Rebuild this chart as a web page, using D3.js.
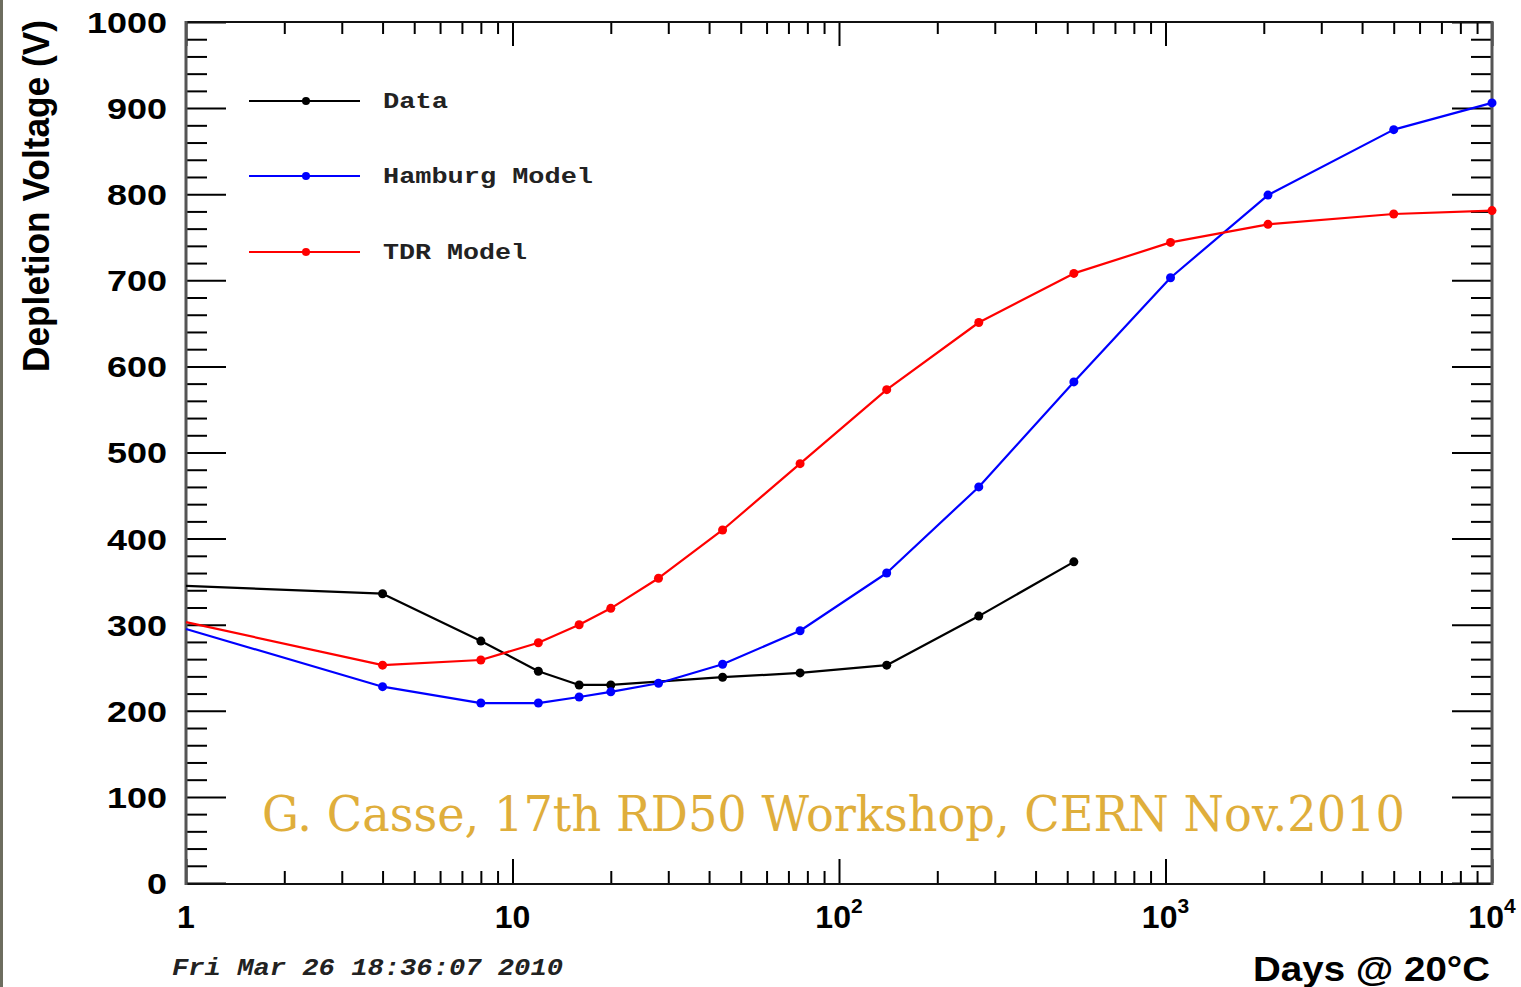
<!DOCTYPE html>
<html>
<head>
<meta charset="utf-8">
<script src="https://cdn.jsdelivr.net/npm/d3@7"></script>
<style>
  html, body { margin: 0; padding: 0; background: #fff; }
  svg { display: block; }
</style>
</head>
<body>
<svg id="chart" width="1521" height="987"></svg>
<script>
// ---- data ----
const modelDays = [1, 4, 8, 12, 16, 20, 28, 44, 76, 140, 268, 524, 1036, 2060, 5000, 10000];
const hamburgModel = [295, 228, 209, 209, 216, 222, 232, 254, 293, 360, 460, 582, 703, 799, 875, 906];
const tdrModel = [303, 253, 259, 279, 300, 319, 354, 410, 487, 573, 651, 708, 744, 765, 777, 781];
const dataDays = [1, 4, 8, 12, 16, 20, 44, 76, 140, 268, 524];
const dataValues = [345, 336, 281, 246, 230, 230, 239, 244, 253, 310, 373];

const xMajorTicks = [1, 10, 100, 1000, 10000];
const xTickExponents = [0, 1, 2, 3, 4];
const yMajorTicks = [0, 100, 200, 300, 400, 500, 600, 700, 800, 900, 1000];
const legendLabels = ["Data", "Hamburg Model", "TDR Model"];
const seriesColors = ["#000000", "#0000ff", "#ff0000"];

// ---- layout ----
const L = 186, R = 1492, T = 22, B = 883;
const svg = d3.select("#chart");

svg.append("rect").attr("x", 0).attr("y", 0).attr("width", 3).attr("height", 987).attr("fill", "#6d6d5f");

const x = d3.scaleLog().domain([1, 10000]).range([L, R]);
const y = d3.scaleLinear().domain([0, 1000]).range([B, T]);

const xMinor = [];
for (let d = 1; d < 10000; d *= 10) for (let k = 2; k <= 9; k++) xMinor.push(d * k);
const yMinor = [];
for (let v = 0; v < 1000; v += 20) if (v % 100 !== 0) yMinor.push(v);

function styleAxis(g) {
  g.select(".domain").remove();
  g.selectAll(".tick line").attr("stroke", "#000").attr("stroke-width", 2);
  g.selectAll(".tick text").remove();
}

// y ticks left (inward)
svg.append("g").attr("transform", `translate(${L},0)`)
  .call(d3.axisRight(y).tickValues(yMajorTicks).tickSize(40).tickFormat("")).call(styleAxis);
svg.append("g").attr("transform", `translate(${L},0)`)
  .call(d3.axisRight(y).tickValues(yMinor).tickSize(21).tickFormat("")).call(styleAxis);
// y ticks right (inward)
svg.append("g").attr("transform", `translate(${R},0)`)
  .call(d3.axisLeft(y).tickValues(yMajorTicks).tickSize(40).tickFormat("")).call(styleAxis);
svg.append("g").attr("transform", `translate(${R},0)`)
  .call(d3.axisLeft(y).tickValues(yMinor).tickSize(21).tickFormat("")).call(styleAxis);
// x ticks bottom (inward)
svg.append("g").attr("transform", `translate(0,${B})`)
  .call(d3.axisTop(x).tickValues(xMajorTicks).tickSize(24).tickFormat("")).call(styleAxis);
svg.append("g").attr("transform", `translate(0,${B})`)
  .call(d3.axisTop(x).tickValues(xMinor).tickSize(12).tickFormat("")).call(styleAxis);
// x ticks top (inward)
svg.append("g").attr("transform", `translate(0,${T})`)
  .call(d3.axisBottom(x).tickValues(xMajorTicks).tickSize(24).tickFormat("")).call(styleAxis);
svg.append("g").attr("transform", `translate(0,${T})`)
  .call(d3.axisBottom(x).tickValues(xMinor).tickSize(12).tickFormat("")).call(styleAxis);

// frame
svg.append("line").attr("x1", L).attr("x2", R).attr("y1", T).attr("y2", T).attr("stroke", "#111").attr("stroke-width", 2);
svg.append("line").attr("x1", L).attr("x2", R).attr("y1", B + 1).attr("y2", B + 1).attr("stroke", "#111").attr("stroke-width", 2);
svg.append("line").attr("x1", L).attr("x2", L).attr("y1", T - 1).attr("y2", B + 2).attr("stroke", "#555").attr("stroke-width", 3);
svg.append("line").attr("x1", R).attr("x2", R).attr("y1", T - 1).attr("y2", B + 2).attr("stroke", "#555").attr("stroke-width", 3);

// y labels
const yLab = svg.append("g").attr("transform", `translate(${L},0)`)
  .call(d3.axisLeft(y).tickValues(yMajorTicks).tickSize(0).tickPadding(19).tickFormat(d3.format("d")));
yLab.select(".domain").remove();
yLab.selectAll(".tick text")
  .attr("font-family", "Liberation Sans, Arial, sans-serif")
  .attr("font-weight", "bold").attr("font-size", 29).attr("fill", "#000")
  .attr("dy", "0.36em")
  .each(function () {
    const w = this.getComputedTextLength();
    d3.select(this).attr("textLength", w * 1.24).attr("lengthAdjust", "spacingAndGlyphs");
  });

// x labels
const xl = svg.append("g").attr("font-family", "Liberation Sans, Arial, sans-serif")
  .attr("font-weight", "bold").attr("fill", "#000");
xMajorTicks.forEach((v, i) => {
  const e = xTickExponents[i];
  const t = xl.append("text").attr("x", x(v)).attr("y", 928).attr("text-anchor", "middle").attr("font-size", 32);
  if (e === 0) t.text("1");
  else if (e === 1) t.text("10");
  else {
    t.append("tspan").text("10");
    t.append("tspan").attr("font-size", 21).attr("dy", -15).text(String(e));
  }
});

// axis titles
svg.append("text")
  .attr("transform", "translate(49,20) rotate(-90)")
  .attr("text-anchor", "end")
  .attr("font-family", "Liberation Sans, Arial, sans-serif").attr("font-weight", "bold")
  .attr("font-size", 36).attr("textLength", 352).attr("lengthAdjust", "spacingAndGlyphs")
  .text("Depletion Voltage (V)");

svg.append("text")
  .attr("x", 1253).attr("y", 981)
  .attr("font-family", "Liberation Sans, Arial, sans-serif").attr("font-weight", "bold")
  .attr("font-size", 35).attr("textLength", 237).attr("lengthAdjust", "spacingAndGlyphs")
  .text("Days @ 20°C");

svg.append("text")
  .attr("x", 172).attr("y", 975)
  .attr("font-family", "Liberation Mono, Courier New, monospace").attr("font-weight", "bold")
  .attr("font-style", "italic").attr("fill", "#222")
  .attr("font-size", 23).attr("textLength", 391).attr("lengthAdjust", "spacingAndGlyphs")
  .text("Fri Mar 26 18:36:07 2010");

// series
const series = [
  { days: dataDays, vals: dataValues, color: seriesColors[0] },
  { days: modelDays, vals: hamburgModel, color: seriesColors[1] },
  { days: modelDays, vals: tdrModel, color: seriesColors[2] }
];
const line = d3.line().x(d => x(d[0])).y(d => y(d[1]));
series.forEach(s => {
  const pts = s.days.map((d, i) => [d, s.vals[i]]);
  svg.append("path").datum(pts).attr("d", line)
    .attr("fill", "none").attr("stroke", s.color).attr("stroke-width", 2.2).attr("stroke-linejoin", "round");
  svg.append("g").selectAll("circle").data(pts.filter(p => p[0] > 1)).join("circle")
    .attr("cx", p => x(p[0])).attr("cy", p => y(p[1])).attr("r", 4.5).attr("fill", s.color);
});

// legend
const legY = [101, 176, 252];
const legTL = [65, 210, 144];
legendLabels.forEach((lab, i) => {
  svg.append("line").attr("x1", 249).attr("x2", 360).attr("y1", legY[i]).attr("y2", legY[i])
    .attr("stroke", seriesColors[i]).attr("stroke-width", 2);
  svg.append("circle").attr("cx", 306).attr("cy", legY[i]).attr("r", 4).attr("fill", seriesColors[i]);
  svg.append("text").attr("x", 383).attr("y", legY[i] + 7)
    .attr("font-family", "Liberation Mono, Courier New, monospace").attr("font-weight", "bold")
    .attr("font-size", 22).attr("fill", "#222")
    .attr("textLength", legTL[i]).attr("lengthAdjust", "spacingAndGlyphs")
    .text(lab);
});

// annotation
svg.append("text")
  .attr("x", 262).attr("y", 831)
  .attr("font-family", "DejaVu Serif, serif")
  .attr("font-size", 49).attr("fill", "#dfae3b")
  .attr("textLength", 1143).attr("lengthAdjust", "spacingAndGlyphs")
  .text("G. Casse, 17th RD50 Workshop, CERN Nov.2010");
</script>
</body>
</html>
